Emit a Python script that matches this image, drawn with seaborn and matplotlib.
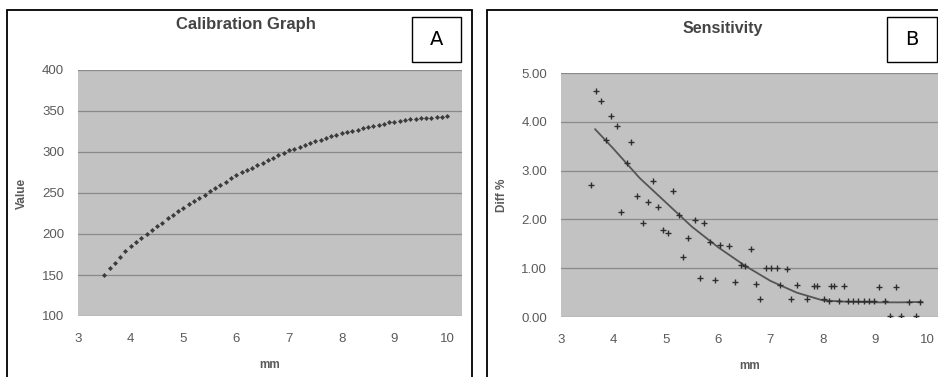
import matplotlib
matplotlib.use("Agg")
import matplotlib.pyplot as plt
import seaborn as sns
import pandas as pd
from matplotlib.patches import Rectangle

# Calibration graph (panel A)
calib_mm = [3.5, 3.6, 3.7, 3.8, 3.9, 4.0, 4.1, 4.2, 4.3, 4.4, 4.5, 4.6, 4.7, 4.8, 4.9,
            5.0, 5.1, 5.2, 5.3, 5.4, 5.5, 5.6, 5.7, 5.8, 5.9, 6.0, 6.1, 6.2, 6.3, 6.4,
            6.5, 6.6, 6.7, 6.8, 6.9, 7.0, 7.1, 7.2, 7.3, 7.4, 7.5, 7.6, 7.7, 7.8, 7.9,
            8.0, 8.1, 8.2, 8.3, 8.4, 8.5, 8.6, 8.7, 8.8, 8.9, 9.0, 9.1, 9.2, 9.3, 9.4,
            9.5, 9.6, 9.7, 9.8, 9.9, 10.0]
calib_value = [150, 158, 165, 172, 179, 185, 190, 195, 200, 205, 210, 214, 219, 223, 228,
               232, 236, 240, 244, 248, 252, 256, 260, 264, 268, 272, 275, 278, 281, 284,
               287, 290, 293, 296, 299, 302, 304, 306, 308, 311, 313, 315, 317, 319, 321,
               323, 324, 326, 327, 329, 330, 332, 333, 334, 336, 337, 338, 339, 340, 340,
               341, 342, 342, 343, 343, 344]

# Sensitivity (panel B)
sens_mm = [3.57, 3.67, 3.77, 3.86, 3.95, 4.07, 4.15, 4.26, 4.34, 4.46, 4.56, 4.66, 4.75,
           4.86, 4.95, 5.04, 5.13, 5.25, 5.33, 5.42, 5.55, 5.66, 5.74, 5.84, 5.95, 6.03,
           6.20, 6.33, 6.43, 6.52, 6.62, 6.73, 6.81, 6.91, 7.01, 7.13, 7.19, 7.31, 7.40,
           7.51, 7.70, 7.83, 7.89, 8.02, 8.15, 8.21, 8.41, 8.12, 8.30, 8.48, 8.58, 8.68,
           8.78, 8.88, 8.98, 9.08, 9.18, 9.39, 9.29, 9.49, 9.78, 9.65, 9.86]
sens_diff = [2.70, 4.64, 4.42, 3.63, 4.11, 3.92, 2.16, 3.16, 3.58, 2.48, 1.93, 2.36, 2.79,
             2.26, 1.78, 1.73, 2.58, 2.09, 1.23, 1.61, 1.99, 0.80, 1.93, 1.53, 0.75, 1.47,
             1.45, 0.72, 1.06, 1.05, 1.40, 0.68, 0.36, 1.01, 1.01, 1.01, 0.65, 0.99, 0.36,
             0.66, 0.36, 0.63, 0.63, 0.36, 0.63, 0.63, 0.63, 0.33, 0.33, 0.33, 0.33, 0.33,
             0.33, 0.33, 0.33, 0.62, 0.33, 0.62, 0.03, 0.03, 0.03, 0.31, 0.31]

trend_mm = [3.65, 4.0, 4.5, 5.0, 5.5, 6.0, 6.5, 7.0, 7.5, 8.0, 8.5, 9.0, 9.5, 9.9]
trend_diff = [3.85, 3.45, 2.85, 2.35, 1.85, 1.43, 1.06, 0.74, 0.50, 0.34, 0.31, 0.30, 0.30, 0.31]

W, H = 938, 377
TEXT = "#5a5a5a"
PLOT_BG = "#c2c2c2"
GRID = "#8a8a8a"

sns.set_style("white")
plt.rcParams["font.family"] = ["Liberation Sans", "DejaVu Sans"]

fig = plt.figure(figsize=(W / 100, H / 100), dpi=100)


def px_axes(x0, y0, x1, y1):
    # pixel box (top-left origin) -> figure axes
    return fig.add_axes([x0 / W, 1 - y1 / H, (x1 - x0) / W, (y1 - y0) / H])


def style_axes(ax, yticks, ylabels, ylabel, ylabel_x):
    ax.set_facecolor(PLOT_BG)
    for s in ax.spines.values():
        s.set_visible(False)
    ax.set_yticks(yticks)
    ax.set_yticklabels(ylabels)
    ax.set_xticks(range(3, 11))
    ax.yaxis.grid(True, color=GRID, lw=0.9)
    ax.xaxis.grid(False)
    ax.tick_params(axis="both", length=0, labelsize=9.5, colors=TEXT)
    ax.tick_params(axis="x", pad=12)
    ax.tick_params(axis="y", pad=10)
    ax.set_xlabel("mm", fontsize=8.5, color=TEXT, fontweight="bold", labelpad=10)
    ax.set_ylabel(ylabel, fontsize=8.5, color=TEXT, fontweight="bold")
    ax.yaxis.set_label_coords(ylabel_x, 0.5)
    ax.set_axisbelow(True)


# Panel A
ax1 = px_axes(78, 70, 462, 316)
calib_df = pd.DataFrame({"mm": calib_mm, "value": calib_value})
sns.scatterplot(data=calib_df, x="mm", y="value", ax=ax1, marker="D", s=5,
                color="#3a3a3a", edgecolor="#3a3a3a", linewidth=0.3, zorder=3)
ax1.set_xlim(3, 10.28)
ax1.set_ylim(100, 400)
style_axes(ax1, [100, 150, 200, 250, 300, 350, 400],
           ["100", "150", "200", "250", "300", "350", "400"],
           "Value", -(78 - 28) / 384)
fig.text(246 / W, 1 - 25 / H, "Calibration Graph", ha="center", va="center",
         fontsize=12, fontweight="bold", color="#444444")

# Panel B
ax2 = px_axes(561, 73, 938, 317)
sens_df = pd.DataFrame({"mm": sens_mm, "diff": sens_diff})
trend_df = pd.DataFrame({"mm": trend_mm, "diff": trend_diff})
sns.lineplot(data=trend_df, x="mm", y="diff", ax=ax2, color="#555555", lw=1.3, zorder=2)
sns.scatterplot(data=sens_df, x="mm", y="diff", ax=ax2, marker="+", s=14,
                color="#2e2e2e", linewidth=1.0, zorder=3)
ax2.set_xlim(3, 10.2)
ax2.set_ylim(0, 5)
style_axes(ax2, [0, 1, 2, 3, 4, 5],
           ["0.00", "1.00", "2.00", "3.00", "4.00", "5.00"],
           "Diff %", -(561 - 508) / 377)
fig.text(723 / W, 1 - 29 / H, "Sensitivity", ha="center", va="center",
         fontsize=11.5, fontweight="bold", color="#444444")

# panel frames
fig.add_artist(Rectangle((7 / W, -0.1), (471.7 - 7) / W, 1 - 10 / H + 0.1,
                         transform=fig.transFigure, fill=False, ec="black", lw=1.3))
fig.add_artist(Rectangle((487 / W, -0.1), 1.0, 1 - 10 / H + 0.1,
                         transform=fig.transFigure, fill=False, ec="black", lw=1.3))

# letter boxes
for letter, x0, x1 in [("A", 411.7, 460.7), ("B", 887, 936.7)]:
    fig.add_artist(Rectangle((x0 / W, 1 - 62 / H), (x1 - x0) / W, 45 / H,
                             transform=fig.transFigure, fc="white", ec="black", lw=1.0))
    fig.text((x0 + x1) / 2 / W, 1 - 39.5 / H, letter, ha="center", va="center",
             fontsize=14, color="black", family=["DejaVu Sans"])

fig.savefig("out.png", dpi=100)
